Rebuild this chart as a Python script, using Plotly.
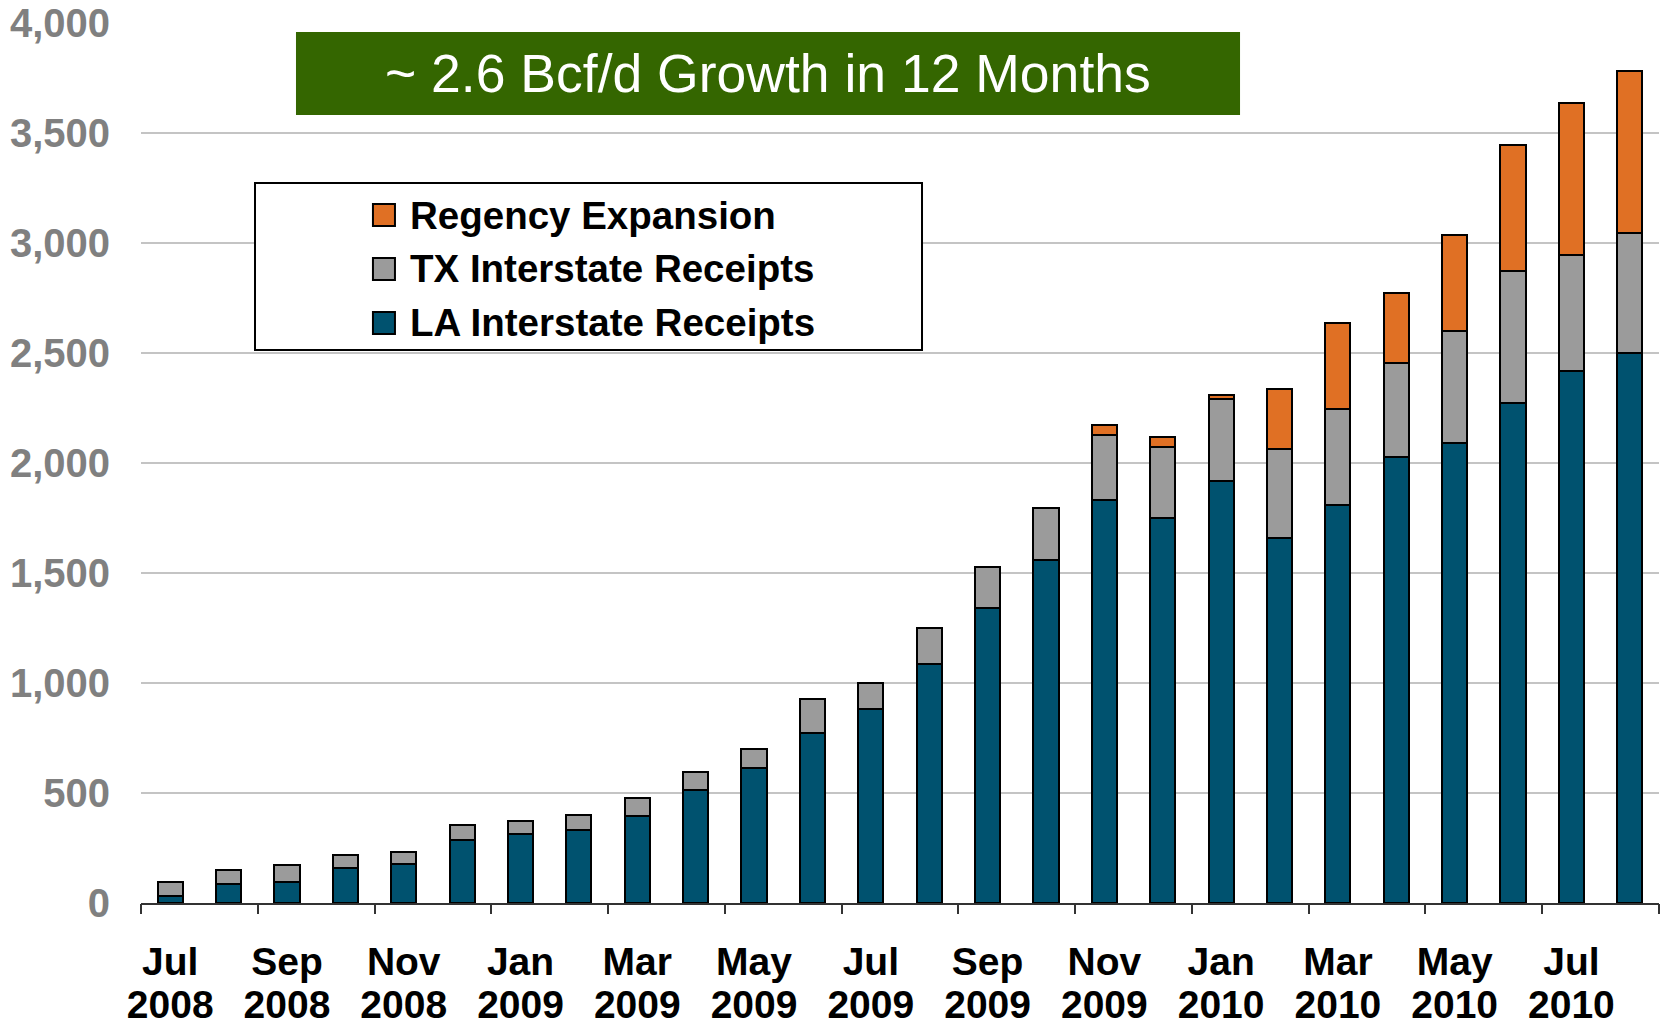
import plotly.graph_objects as go

months = ["Jul 2008", "Aug 2008", "Sep 2008", "Oct 2008", "Nov 2008", "Dec 2008",
          "Jan 2009", "Feb 2009", "Mar 2009", "Apr 2009", "May 2009", "Jun 2009",
          "Jul 2009", "Aug 2009", "Sep 2009", "Oct 2009", "Nov 2009", "Dec 2009",
          "Jan 2010", "Feb 2010", "Mar 2010", "Apr 2010", "May 2010", "Jun 2010",
          "Jul 2010", "Aug 2010"]

la_receipts = [33, 87, 96, 160, 178, 287, 315, 334, 397, 515, 614, 771, 880, 1088,
               1343, 1558, 1830, 1750, 1920, 1657, 1810, 2028, 2090, 2272, 2418, 2500]
tx_receipts = [64, 65, 76, 56, 56, 66, 56, 64, 82, 82, 84, 155, 118, 164,
               183, 239, 298, 321, 372, 407, 436, 426, 510, 600, 527, 545]
regency = [None] * 16 + [45, 48, 18, 273, 392, 319, 436, 574, 691, 738]

tick_months = months[::2]
tick_month_names = [m.split(" ")[0] for m in tick_months]
tick_years = [m.split(" ")[1] for m in tick_months]
y_ticks = list(range(0, 4001, 500))

series = [
    ("LA Interstate Receipts", la_receipts, "#00526F"),
    ("TX Interstate Receipts", tx_receipts, "#9B9B9B"),
    ("Regency Expansion", regency, "#E07024"),
]

FONT = "Liberation Sans, Arial, sans-serif"

fig = go.Figure()
for name, vals, col in series:
    fig.add_trace(go.Bar(
        x=months, y=vals, name=name, showlegend=False,
        marker=dict(color=col, line=dict(color="#000000", width=2)),
    ))

# invisible traces attached to the overlay axes (boundary ticks, year labels)
fig.add_trace(go.Scatter(x=[None], y=[None], xaxis="x2", yaxis="y",
                         showlegend=False, hoverinfo="skip"))
fig.add_trace(go.Scatter(x=[None], y=[None], xaxis="x3", yaxis="y",
                         showlegend=False, hoverinfo="skip"))

n = len(months)
label_idx = list(range(0, n, 2))
xfont = dict(family=FONT, size=39, color="#000000", weight="bold")

fig.update_layout(
    width=1661, height=1026,
    margin=dict(l=141, r=2, t=23, b=123),
    paper_bgcolor="white", plot_bgcolor="white",
    barmode="stack", bargap=0.57,
    font=dict(family=FONT),
    yaxis=dict(
        range=[0, 4000], tickvals=y_ticks, tickformat=",d",
        showgrid=True, gridcolor="#C4C4C4", gridwidth=2,
        zeroline=False, showline=False, ticks="",
        tickfont=dict(family=FONT, size=40, color="#808080", weight="bold"),
        ticklabelstandoff=30, automargin=False,
    ),
    xaxis=dict(
        type="category", categoryorder="array", categoryarray=months,
        range=[-0.5, n - 0.5],
        tickvals=tick_months, ticktext=tick_month_names, ticks="",
        showline=True, linecolor="#333333", linewidth=2,
        showgrid=False, tickfont=xfont,
        ticklabelstandoff=23, automargin=False,
    ),
    xaxis2=dict(
        overlaying="x", anchor="y", side="bottom",
        range=[-0.5, n - 0.5],
        tickvals=[i - 0.5 for i in range(0, n + 1, 2)],
        ticks="outside", ticklen=10, tickwidth=2, tickcolor="#333333",
        showticklabels=False, showgrid=False, zeroline=False, showline=False,
        automargin=False,
    ),
    xaxis3=dict(
        overlaying="x", anchor="y", side="bottom",
        range=[-0.5, n - 0.5],
        tickvals=label_idx, ticktext=tick_years, ticks="",
        showgrid=False, zeroline=False, showline=False, tickfont=xfont,
        ticklabelstandoff=75, automargin=False,
    ),
)

# Title banner
fig.add_shape(type="rect", xref="paper", yref="paper",
              x0=0.1021, x1=0.724, y0=0.8955, y1=0.9898,
              fillcolor="#346600", line=dict(width=0), layer="above")
fig.add_annotation(xref="paper", yref="paper", x=0.413, y=0.9426,
                   text="~ 2.6 Bcf/d Growth in 12 Months", showarrow=False,
                   xanchor="center", yanchor="middle",
                   font=dict(family=FONT, size=53.5, color="white"))

# Legend box
fig.add_shape(type="rect", xref="paper", yref="paper",
              x0=0.0751, x1=0.5145, y0=0.6284, y1=0.8182,
              fillcolor="white", line=dict(color="#000000", width=2), layer="above")
legend_rows = [series[2], series[1], series[0]]
row_y = [0.7818, 0.7205, 0.6591]
for (name, _, col), yc in zip(legend_rows, row_y):
    fig.add_shape(type="rect", xref="paper", yref="paper",
                  x0=0.1528, x1=0.1673, y0=yc - 0.0125, y1=yc + 0.0125,
                  fillcolor=col, line=dict(color="#000000", width=2), layer="above")
    fig.add_annotation(xref="paper", yref="paper", x=0.1759, y=yc,
                       text=name, showarrow=False, xanchor="left", yanchor="middle",
                       font=dict(family=FONT, size=38.5, color="#000000", weight="bold"))

fig.write_html("out.html",
               config={"displayModeBar": False},
               post_script="document.body.style.margin='0';"
                           "document.body.style.overflow='hidden';")
